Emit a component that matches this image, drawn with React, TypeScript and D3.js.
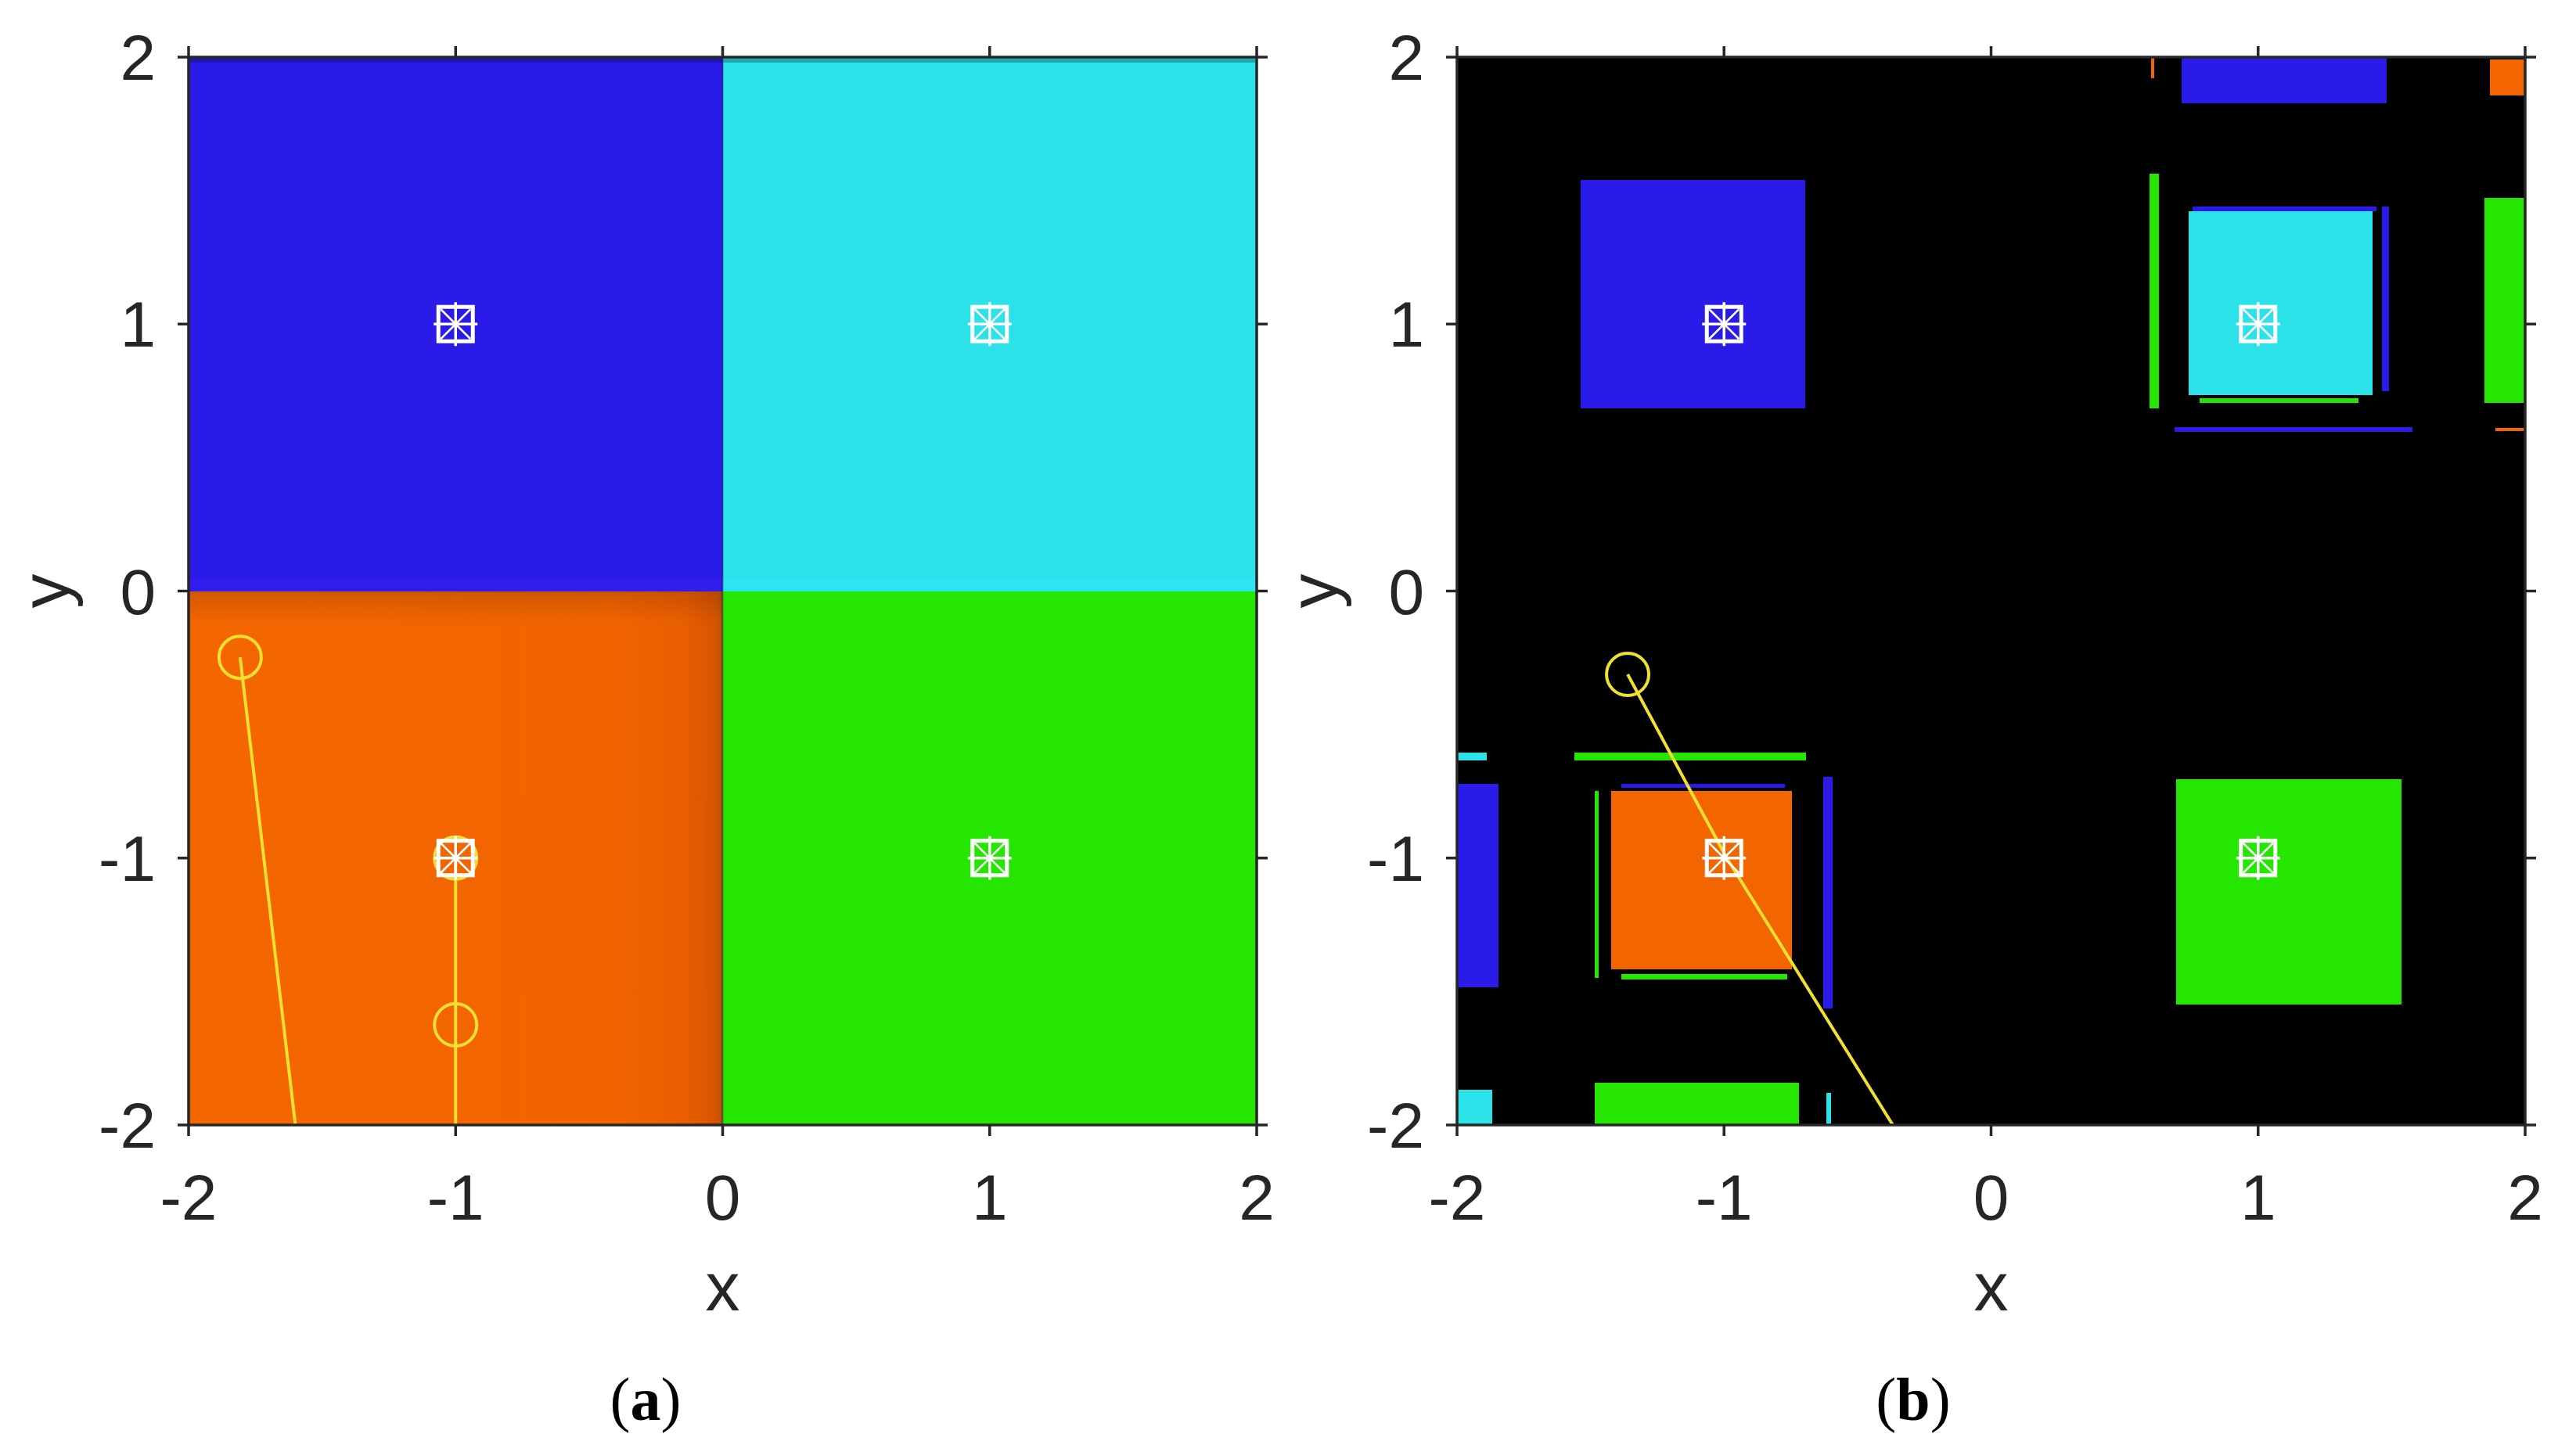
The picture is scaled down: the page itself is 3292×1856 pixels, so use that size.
import React from "react";
import * as d3 from "d3";

// ---------- data ----------
const ticks = [-2, -1, 0, 1, 2];
const tickLabels = ["-2", "-1", "0", "1", "2"];
const domain: [number, number] = [-2, 2];

const colorOf: Record<string, string> = {
  blue: "#2B1BE8",
  cyan: "#2AE2E8",
  orange: "#F26500",
  green: "#24E600",
};

// attractors (equilibria) marked in both panels
const attractorsX = [-1, 1, -1, 1];
const attractorsY = [1, 1, -1, -1];

// panel (a): basins of attraction – quadrants [x0, x1, y0, y1, colour]
const basinA: [number, number, number, number, string][] = [
  [-2, 0, 0, 2, "blue"],
  [0, 2, 0, 2, "cyan"],
  [-2, 0, -2, 0, "orange"],
  [0, 2, -2, 0, "green"],
];

// panel (a): trajectories
const trajA1X = [-1.807, -1.6];
const trajA1Y = [-0.248, -2.0];
const trajA2X = [-1.0, -1.0, -1.0];
const trajA2Y = [-1.0, -1.625, -2.0];
const circlesAX = [-1.807, -1.0, -1.0];
const circlesAY = [-0.248, -1.0, -1.625];

// panel (b): basins – rectangles [x0, x1, y0, y1, colour]
const basinB: [number, number, number, number, string][] = [
  [-1.537, -0.696, 0.684, 1.54, "blue"],
  [0.714, 1.481, 1.827, 2.0, "blue"],
  [0.6, 0.612, 1.92, 2.0, "orange"],
  [1.868, 2.0, 1.856, 1.99, "orange"],
  [0.594, 0.628, 0.684, 1.563, "green"],
  [0.755, 1.443, 1.423, 1.44, "blue"],
  [1.465, 1.49, 0.75, 1.44, "blue"],
  [0.74, 1.429, 0.734, 1.423, "cyan"],
  [0.781, 1.376, 0.705, 0.722, "green"],
  [1.848, 2.0, 0.705, 1.473, "green"],
  [0.687, 1.578, 0.595, 0.615, "blue"],
  [1.89, 2.0, 0.598, 0.612, "orange"],
  [0.693, 1.537, -1.55, -0.705, "green"],
  [-2.0, -1.845, -1.484, -0.722, "blue"],
  [-2.0, -1.89, -0.633, -0.605, "cyan"],
  [-1.56, -0.693, -0.633, -0.605, "green"],
  [-1.385, -0.772, -0.737, -0.722, "blue"],
  [-1.484, -1.47, -1.449, -0.749, "green"],
  [-1.423, -0.746, -1.417, -0.749, "orange"],
  [-1.385, -0.763, -1.455, -1.434, "green"],
  [-0.628, -0.593, -1.563, -0.696, "blue"],
  [-1.484, -0.719, -2.0, -1.842, "green"],
  [-2.0, -1.868, -2.0, -1.868, "cyan"],
  [-0.617, -0.6, -2.0, -1.88, "cyan"],
];

// panel (b): trajectory
const trajBX = [-1.361, -0.99, -0.368];
const trajBY = [-0.312, -1.0, -2.0];
const circlesBX = [-1.361];
const circlesBY = [-0.312];

// ---------- layout ----------
const W = 3292;
const H = 1856;
const TOP = 73;
const BOTTOM = 1438;
const PANELS = [
  { left: 241, right: 1606, tag: "a", labelX: 825 },
  { left: 1862, right: 3227, tag: "b", labelX: 2445 },
];
const AXIS_COLOR = "#262626";
const TRAJ_COLOR = "#F2E030";
const SANS = "'Liberation Sans', Arial, Helvetica, sans-serif";
const SERIF = "'Liberation Serif', 'Times New Roman', serif";

function Marker({ cx, cy }: { cx: number; cy: number }) {
  const s = 22;
  const p = 28;
  const d = 19;
  return (
    <g transform={`translate(${cx},${cy})`} stroke="#ffffff" fill="none">
      <rect x={-s} y={-s} width={2 * s} height={2 * s} strokeWidth={5} />
      <line x1={-p} x2={p} y1={0} y2={0} strokeWidth={3.5} />
      <line x1={0} x2={0} y1={-p} y2={p} strokeWidth={3.5} />
      <line x1={-d} x2={d} y1={-d} y2={d} strokeWidth={2.5} />
      <line x1={-d} x2={d} y1={d} y2={-d} strokeWidth={2.5} />
    </g>
  );
}

function Panel({ idx }: { idx: number }) {
  const P = PANELS[idx];
  const x = d3.scaleLinear().domain(domain).range([P.left, P.right]);
  const y = d3.scaleLinear().domain(domain).range([BOTTOM, TOP]);
  const line = d3
    .line<[number, number]>()
    .x((d) => x(d[0]))
    .y((d) => y(d[1]));
  const clipId = `clip-${P.tag}`;
  const tl = 14;
  const isA = idx === 0;

  const rects = isA ? basinA : basinB;
  const trajs: [number[], number[]][] = isA
    ? [
        [trajA1X, trajA1Y],
        [trajA2X, trajA2Y],
      ]
    : [[trajBX, trajBY]];
  const cX = isA ? circlesAX : circlesBX;
  const cY = isA ? circlesAY : circlesBY;

  return (
    <g>
      <defs>
        <clipPath id={clipId}>
          <rect x={P.left} y={TOP} width={P.right - P.left} height={BOTTOM - TOP} />
        </clipPath>
        <linearGradient id={`og-${P.tag}`} x1="0" x2="1" y1="0" y2="0">
          <stop offset="0" stopColor="#F46600" />
          <stop offset="0.8" stopColor="#F26400" />
          <stop offset="0.93" stopColor="#E85E00" />
          <stop offset="0.985" stopColor="#D85400" />
          <stop offset="1" stopColor="#B85A00" />
        </linearGradient>
        <linearGradient id={`ot-${P.tag}`} x1="0" x2="0" y1="0" y2="1">
          <stop offset="0" stopColor="#000" stopOpacity={0.14} />
          <stop offset="1" stopColor="#000" stopOpacity={0} />
        </linearGradient>
      </defs>
      <g clipPath={`url(#${clipId})`}>
        <rect
          x={P.left}
          y={TOP}
          width={P.right - P.left}
          height={BOTTOM - TOP}
          fill={isA ? "#ffffff" : "#000000"}
        />
        {rects.map((r, i) => (
          <rect
            key={i}
            x={x(r[0])}
            y={y(r[3])}
            width={x(r[1]) - x(r[0])}
            height={y(r[2]) - y(r[3])}
            fill={isA && r[4] === "orange" ? `url(#og-${P.tag})` : colorOf[r[4]]}
            shapeRendering="crispEdges"
          />
        ))}
        {isA && (
          <g>
            <rect
              x={x(-2)}
              y={y(0)}
              width={x(0) - x(-2)}
              height={y(-0.12) - y(0)}
              fill={`url(#ot-${P.tag})`}
            />
            <rect x={x(-2)} y={y(0.05)} width={x(0) - x(-2)} height={y(0) - y(0.05)} fill="#3A20F6" opacity={0.5} />
            <rect x={x(0)} y={y(0.05)} width={x(2) - x(0)} height={y(0) - y(0.05)} fill="#30E6F8" opacity={0.5} />
            <rect x={x(-2)} y={TOP} width={x(2) - x(-2)} height={7} fill="#000" opacity={0.25} />
            <rect x={x(0) - 2} y={TOP} width={3} height={BOTTOM - TOP} fill="#1a2a60" opacity={0.4} />
          </g>
        )}
        {trajs.map((t, i) => (
          <path
            key={i}
            d={line(t[0].map((v, k) => [v, t[1][k]] as [number, number])) || ""}
            fill="none"
            stroke={TRAJ_COLOR}
            strokeWidth={4}
          />
        ))}
        {cX.map((v, i) => (
          <circle key={i} cx={x(v)} cy={y(cY[i])} r={27} fill="none" stroke={TRAJ_COLOR} strokeWidth={4} />
        ))}
        {attractorsX.map((v, i) => (
          <Marker key={i} cx={x(v)} cy={y(attractorsY[i])} />
        ))}
      </g>
      {/* box */}
      <rect
        x={P.left}
        y={TOP}
        width={P.right - P.left}
        height={BOTTOM - TOP}
        fill="none"
        stroke={AXIS_COLOR}
        strokeWidth={3.5}
      />
      {/* ticks */}
      {ticks.map((t) => (
        <g key={`t${t}`} stroke={AXIS_COLOR} strokeWidth={3.5}>
          <line x1={x(t)} x2={x(t)} y1={BOTTOM} y2={BOTTOM + tl} />
          <line x1={x(t)} x2={x(t)} y1={TOP} y2={TOP - tl} />
          <line y1={y(t)} y2={y(t)} x1={P.left} x2={P.left - tl} />
          <line y1={y(t)} y2={y(t)} x1={P.right} x2={P.right + tl} />
        </g>
      ))}
      {ticks.map((t, i) => (
        <text
          key={`xl${t}`}
          x={x(t)}
          y={1559}
          fontSize={82}
          fontFamily={SANS}
          fill={AXIS_COLOR}
          textAnchor="middle"
        >
          {tickLabels[i]}
        </text>
      ))}
      {ticks.map((t, i) => (
        <text
          key={`yl${t}`}
          x={P.left - 42}
          y={y(t) + 29}
          fontSize={82}
          fontFamily={SANS}
          fill={AXIS_COLOR}
          textAnchor="end"
        >
          {tickLabels[i]}
        </text>
      ))}
      <text
        x={(P.left + P.right) / 2}
        y={1675}
        fontSize={88}
        fontFamily={SANS}
        fill={AXIS_COLOR}
        textAnchor="middle"
      >
        x
      </text>
      <text
        transform={`translate(${P.left - 153},${(TOP + BOTTOM) / 2}) rotate(-90)`}
        fontSize={88}
        fontFamily={SANS}
        fill={AXIS_COLOR}
        textAnchor="middle"
      >
        y
      </text>
      <text x={P.labelX} y={1815} fontSize={78} fontFamily={SERIF} fill="#000" textAnchor="middle">
        (<tspan fontWeight="bold">{P.tag}</tspan>)
      </text>
    </g>
  );
}

export default function App() {
  return (
    <div style={{ position: "absolute", left: 0, top: 0, width: W, height: H, background: "#fff" }}>
      <svg width={W} height={H} viewBox={`0 0 ${W} ${H}`} style={{ display: "block" }}>
        <rect width={W} height={H} fill="#ffffff" />
        <Panel idx={0} />
        <Panel idx={1} />
      </svg>
    </div>
  );
}
